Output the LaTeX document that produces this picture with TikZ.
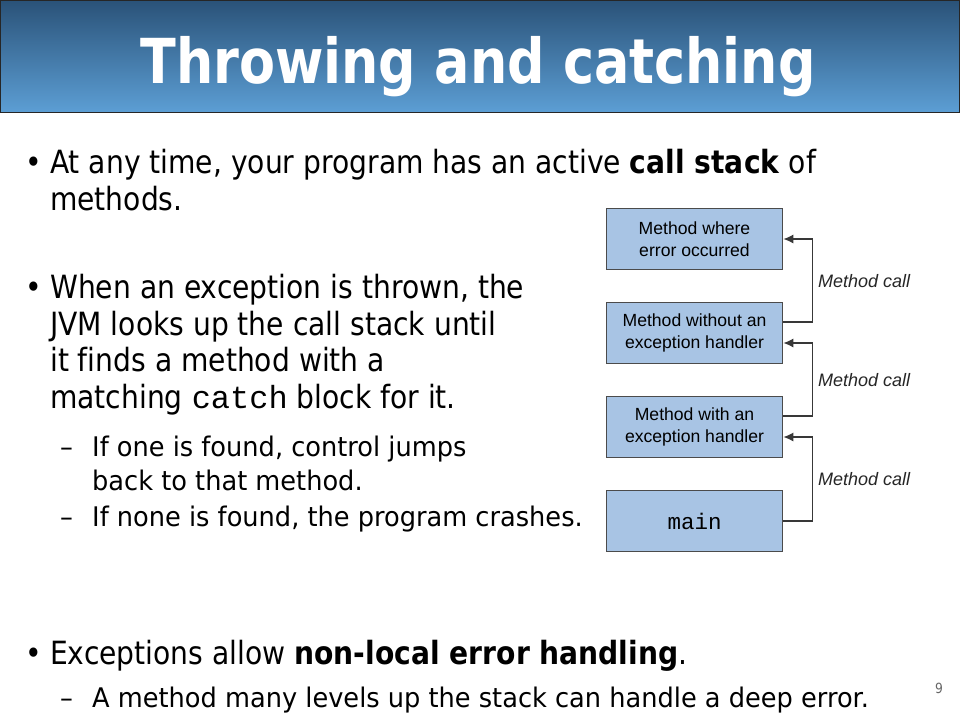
\documentclass[tikz,border=0pt]{standalone}
\usepackage{fontspec}
\setmainfont{DejaVu Sans}[FakeStretch=0.88, Ligatures=NoCommon]
\newfontfamily\titlefont{DejaVu Sans}[FakeStretch=0.845]
\newfontfamily\subfont{DejaVu Sans}[FakeStretch=0.95, Ligatures=NoCommon]
\newfontfamily\diagfont{Liberation Sans}
\setmonofont{Liberation Mono}
\usetikzlibrary{calc,positioning}
\usetikzlibrary{arrows.meta}
\definecolor{bartop}{RGB}{42,82,120}
\definecolor{barbot}{RGB}{92,158,212}
\definecolor{boxfill}{RGB}{168,196,228}
\definecolor{boxline}{RGB}{75,75,75}
\tikzstyle{frame} = [draw=boxline, line width=1.6pt, fill=boxfill, minimum width=176pt, minimum height=61pt, align=center, inner sep=0pt, font=\diagfont\fontsize{17.6}{22}\selectfont]
\tikzstyle{call} = [-{Latex[length=10pt,width=9pt]}, draw=black!78, line width=1.4pt]
\tikzstyle{calllbl} = [anchor=west, inner sep=0pt, font=\diagfont\itshape\fontsize{18}{20}\selectfont, text=black!85]
\tikzstyle{line} = [anchor=base west, inner sep=0pt, font=\fontsize{32}{36}\selectfont]
\tikzstyle{subline} = [anchor=base west, inner sep=0pt, font=\subfont\fontsize{27}{30}\selectfont]

\begin{document}
\begin{tikzpicture}[x=1pt,y=-1pt]
    \useasboundingbox (0,0) rectangle (960,720);
    \fill[white] (0,0) rectangle (960,720);

    % title bar
    \shade[top color=bartop, bottom color=barbot] (0,0) rectangle (960,112);
    \draw[black!85, line width=1pt] (0.5,0.5) rectangle (959.5,112);
    \node[anchor=base, inner sep=0pt] (title) at (478,83.5) {\titlefont\fontsize{62}{70}\selectfont\bfseries\color{white}Throwing and catching};

    % first bullet
    \node[line] (dotA) at (25,173) {•};
    \node[line] (a1) at (50,173) {At any time, your program has an active \textbf{call stack} of};
    \node[line] (a2) at (50,210.5) {methods.};

    % second bullet
    \node[line] (dotB) at (25,298.5) {•};
    \node[line] (b1) at (50,298.5) {When an exception is thrown, the};
    \node[line] (b2) at (50,335) {JVM looks up the call stack until};
    \node[line] (b3) at (50,371.5) {it finds a method with a};
    \node[line] (b4) at (50,408.5) {matching \texttt{catch} block for it.};
    \node[subline] (dashB1) at (60,456.5) {–};
    \node[subline] (b5) at (92,456.5) {If one is found, control jumps};
    \node[subline] (b6) at (92,490) {back to that method.};
    \node[subline] (dashB2) at (60,526.5) {–};
    \node[subline] (b7) at (92,526.5) {If none is found, the program crashes.};

    % third bullet
    \node[line] (dotC) at (25,664) {•};
    \node[line] (c1) at (50,664) {Exceptions allow \textbf{non-local error handling}.};
    \node[subline] (dashC1) at (60,707.5) {–};
    \node[subline] (c2) at (92,707.5) {A method many levels up the stack can handle a deep error.};
    \node[anchor=base, inner sep=0pt, text=black!60, font=\fontsize{14}{16}\selectfont] (page) at (939,693) {9};

    % the call stack
    \node[frame] (err)   at (694.5,239) {Method where\\error occurred};
    \node[frame] (nohdl) at (694.5,333) {Method without an\\exception handler};
    \node[frame] (hdl)   at (694.5,427) {Method with an\\exception handler};
    \node[frame] (main)  at (694.5,521) {\fontsize{22.5}{24}\selectfont\texttt{main}};

    \draw[call] ($(nohdl.east)+(0,-11)$) -- ++(29,0) |- (err.east);
    \draw[call] ($(hdl.east)+(0,-11)$) -- ++(29,0) |- ($(nohdl.east)+(0,10)$);
    \draw[call] (main.east) -- ++(29,0) |- ($(hdl.east)+(0,10)$);

    \node[calllbl] (lblA) at (818,281) {Method call};
    \node[calllbl] (lblB) at (818,380) {Method call};
    \node[calllbl] (lblC) at (818,479) {Method call};
\end{tikzpicture}
\end{document}
